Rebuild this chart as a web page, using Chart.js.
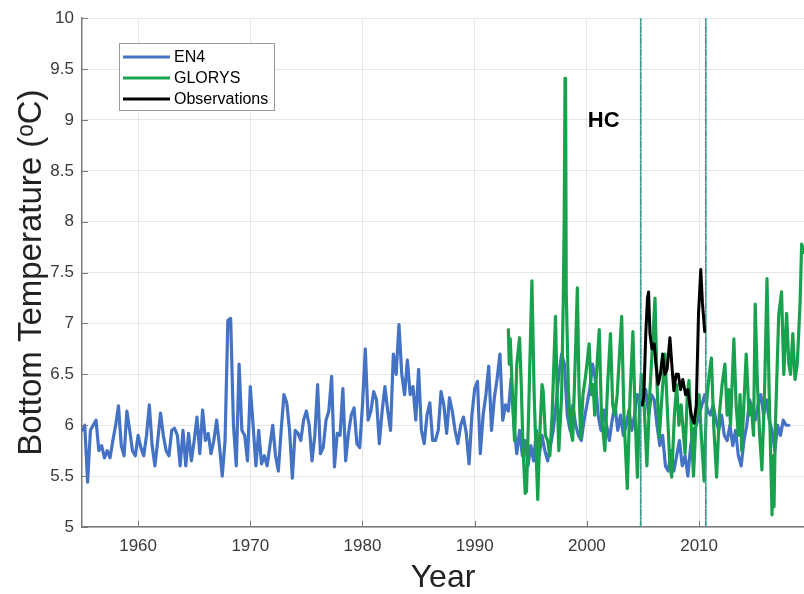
<!DOCTYPE html>
<html>
<head>
<meta charset="utf-8">
<script src="https://cdn.jsdelivr.net/npm/chart.js@4.4.1/dist/chart.umd.min.js"></script>
<style>
  html, body { margin: 0; padding: 0; background: #fff; }
</style>
</head>
<body>
<canvas id="tempChart" width="804" height="594"></canvas>
<script>
// EN4: quarterly values starting 1955.0
const en4Start = 1955.0;
const en4Step = 0.25;
const en4Temps = [
  5.95, 6.0, 5.44, 5.95,   6.0, 6.05, 5.75, 5.8,    5.68, 5.75, 5.68, 5.85,  6.0, 6.19, 5.8, 5.7,
  6.14, 5.95, 5.75, 5.7,   5.9, 5.78, 5.7, 5.9,     6.2, 5.8, 5.6, 5.85,     6.12, 5.9, 5.75, 5.7,
  5.95, 5.97, 5.9, 5.6,    5.95, 5.6, 5.92, 5.65,   5.85, 6.08, 5.72, 6.15,  5.85, 5.92, 5.72, 5.85,
  6.05, 5.8, 5.5, 5.85,    7.03, 7.05, 6.0, 5.6,    6.6, 5.95, 5.9, 5.65,    6.38, 6.0, 5.6, 5.95,
  5.62, 5.7, 5.6, 5.8,     6.0, 5.7, 5.55, 5.95,    6.3, 6.22, 5.95, 5.48,   5.95, 5.92, 5.85, 6.05,
  6.14, 6.0, 5.65, 5.9,    6.4, 5.72, 5.78, 6.05,   6.14, 6.48, 5.59, 5.92,  5.9, 6.36, 5.65, 5.92,
  6.1, 6.17, 5.82, 5.78,   6.2, 6.75, 6.05, 6.14,   6.33, 6.25, 5.82, 6.14,  6.38, 6.14, 5.95, 6.7,
  6.5, 6.99, 6.5, 6.3,     6.64, 6.3, 6.38, 6.05,   6.55, 5.95, 5.82, 6.1,   6.22, 5.85, 5.85, 5.95,
  6.33, 6.2, 5.92, 6.27,   6.14, 5.95, 5.82, 6.0,   6.08, 5.92, 5.62, 6.1,   6.36, 6.43, 5.72, 6.1,
  6.3, 6.58, 5.95, 6.27,   6.46, 6.7, 6.05, 6.2,    6.14, 6.46, 6.0, 5.72,   5.95, 5.7, 5.85, 5.6,
  5.8, 5.65, 5.95, 5.7,    5.9, 5.75, 5.65, 5.8,    5.95, 6.2, 6.5, 6.7,     6.6, 6.1, 5.95, 6.2,
  6.0, 5.9, 5.85, 6.05,    6.2, 6.35, 6.6, 6.45,    6.1, 5.95, 6.15, 6.0,    5.85, 6.05, 6.2, 5.95,
  6.1, 5.9, 6.0, 6.15,     5.95, 6.1, 6.3, 6.25,    6.2, 6.35, 6.1, 6.3,     6.25, 6.0, 5.8, 5.9,
  5.6, 5.55, 5.75, 5.55,   5.7, 5.85, 5.6, 5.7,     5.5, 5.8, 5.95, 6.0,     6.1, 6.2, 6.3, 6.15,
  6.1, 6.2, 6.05, 5.95,    6.1, 5.9, 5.85, 6.0,     5.8, 5.95, 5.7, 5.6,     5.85, 6.0, 6.25, 6.15,
  6.05, 6.2, 6.3, 6.1,     6.25, 6.05, 5.95, 5.75,  6.0, 5.9, 6.05, 6.0,     6.0
];

// GLORYS: turning points
const glorysYears = [
  1993.00, 1993.08, 1993.17, 1993.35, 1993.55, 1993.75, 1994.00, 1994.15, 1994.30, 1994.50, 1994.62, 1994.80,
  1995.10, 1995.30, 1995.45, 1995.62, 1995.80, 1996.00, 1996.10, 1996.30, 1996.50, 1996.70, 1996.90,
  1997.20, 1997.35, 1997.50, 1997.75, 1997.90, 1997.98, 1998.05, 1998.10, 1998.16, 1998.35, 1998.55, 1998.73, 1998.95,
  1999.15, 1999.30, 1999.45, 1999.65, 1999.90, 2000.20, 2000.40, 2000.55, 2000.70, 2000.85,
  2001.10, 2001.30, 2001.60, 2001.85, 2002.10, 2002.30, 2002.50, 2002.70,
  2003.10, 2003.30, 2003.60, 2003.85, 2004.10, 2004.30, 2004.50, 2004.70, 2004.85,
  2005.10, 2005.35, 2005.60, 2005.85, 2006.07, 2006.25, 2006.45, 2006.70, 2006.96,
  2007.15, 2007.40, 2007.56, 2007.80, 2008.00, 2008.20, 2008.40, 2008.75, 2008.95,
  2009.10, 2009.30, 2009.50, 2009.75, 2010.00, 2010.20, 2010.45, 2010.65, 2010.90,
  2011.10, 2011.30, 2011.56, 2011.80, 2012.05, 2012.30, 2012.50, 2012.65, 2012.80,
  2013.10, 2013.30, 2013.50, 2013.65, 2013.80, 2014.20, 2014.45, 2014.65, 2014.85,
  2015.00, 2015.20, 2015.40, 2015.60, 2015.85, 2016.05, 2016.25, 2016.40, 2016.50, 2016.60, 2016.68, 2016.80,
  2017.10, 2017.35, 2017.55, 2017.80, 2018.00, 2018.15, 2018.35, 2018.55, 2018.75, 2019.00, 2019.14, 2019.35
];
const glorysTemps = [
  6.94, 6.6, 6.85, 6.35, 5.85, 6.6, 6.86, 6.4, 5.8, 5.33, 5.35, 6.1,
  7.42, 6.3, 5.8, 5.27, 5.9, 6.4, 6.34, 5.9, 5.85, 5.7, 6.1,
  7.07, 6.3, 5.75, 6.3, 7.28, 8.05, 9.41, 9.38, 7.3, 6.34, 5.95, 5.85, 6.6,
  7.35, 6.34, 5.87, 6.3, 6.5, 6.8, 6.3, 6.4, 6.1, 6.5,
  6.94, 6.1, 5.75, 6.4, 6.9, 6.2, 6.1, 6.3,
  7.07, 6.1, 5.38, 6.3, 6.92, 6.1, 5.49, 6.2, 6.5,
  6.2, 5.6, 6.3, 6.8, 7.25, 6.4, 5.88, 6.3, 6.7,
  6.2, 5.6, 5.49, 6.1, 6.4, 6.0, 6.2, 5.72, 6.3,
  6.44, 6.0, 5.5, 6.1, 6.3, 5.9, 5.45, 6.2, 6.5,
  6.66, 6.0, 5.49, 6.1, 6.4, 6.6, 6.1, 6.35, 6.0,
  6.85, 6.2, 5.9, 6.3, 5.75, 6.7, 6.1, 6.2, 5.9,
  7.19, 6.4, 5.9, 5.56, 6.4, 7.44, 6.3, 5.6, 5.12, 5.7, 5.2, 6.0,
  7.09, 7.31, 6.5, 7.1, 6.6, 6.5, 6.9, 6.45, 6.6, 7.2, 7.78, 7.7
];

// Observations (HC mooring)
const obsYears = [
  2004.95, 2005.08, 2005.25, 2005.40, 2005.50, 2005.62, 2005.80, 2006.00, 2006.15, 2006.35,
  2006.55, 2006.75, 2006.95, 2007.15, 2007.40, 2007.60, 2007.75, 2007.95, 2008.15, 2008.35,
  2008.55, 2008.80, 2009.00, 2009.30, 2009.55, 2009.75, 2009.95, 2010.15, 2010.30, 2010.50
];
const obsTemps = [
  6.2, 6.3, 6.9, 7.25, 7.31, 6.9, 6.75, 6.8, 6.6, 6.4,
  6.5, 6.7, 6.5, 6.55, 6.86, 6.55, 6.34, 6.5, 6.5, 6.35,
  6.45, 6.3, 6.35, 6.1, 6.02, 6.2, 7.1, 7.53, 7.2, 6.92
];

// deployment window markers
const markerYears = [2004.8, 2010.6];
const yearTicks = [1960, 1970, 1980, 1990, 2000, 2010];
const tempRange = [5, 10];
const xRange = [1955, 2019.35];
const siteLabel = { text: 'HC', x: 2001.5, y: 8.99 };

const FONT = "'Liberation Sans', Arial, sans-serif";
const AXIS_GRAY = '#7a7a7a';

const toPoints = (xs, ys) => ys.map((v, i) => ({ x: xs[i], y: v }));
const en4Points = en4Temps.map((v, i) => ({ x: en4Start + i * en4Step, y: v }));

const markerSets = markerYears.map(yr => ({
  label: 'marker',
  data: [{ x: yr, y: tempRange[0] }, { x: yr, y: tempRange[1] }],
  borderColor: '#3c9c8c',
  borderWidth: 1.8,
  borderDash: [6, 2, 1.5, 2],
  pointRadius: 0,
  order: 1
}));

// legend, site label and inward tick marks
const decorPlugin = {
  id: 'decor',
  afterDraw(chart) {
    const { ctx, chartArea, scales } = chart;
    ctx.save();

    // inward ticks like the original figure
    ctx.strokeStyle = AXIS_GRAY;
    ctx.lineWidth = 1;
    scales.x.ticks.forEach(t => {
      const px = Math.round(scales.x.getPixelForValue(t.value)) + 0.5;
      ctx.beginPath();
      ctx.moveTo(px, chartArea.bottom);
      ctx.lineTo(px, chartArea.bottom - 6);
      ctx.stroke();
    });
    scales.y.ticks.forEach(t => {
      const py = Math.round(scales.y.getPixelForValue(t.value)) + 0.5;
      ctx.beginPath();
      ctx.moveTo(chartArea.left, py);
      ctx.lineTo(chartArea.left + 6, py);
      ctx.stroke();
    });

    // site label
    ctx.fillStyle = '#000';
    ctx.font = 'bold 22px ' + FONT;
    ctx.textAlign = 'center';
    ctx.textBaseline = 'middle';
    ctx.fillText(siteLabel.text, scales.x.getPixelForValue(siteLabel.x), scales.y.getPixelForValue(siteLabel.y));

    // legend box
    const bx = 119, by = 43, bw = 155, bh = 67;
    ctx.fillStyle = '#fff';
    ctx.fillRect(bx, by, bw, bh);
    ctx.strokeStyle = '#9a9a9a';
    ctx.lineWidth = 1;
    ctx.strokeRect(bx + 0.5, by + 0.5, bw, bh);
    ctx.font = '16px ' + FONT;
    ctx.textAlign = 'left';
    for (let i = 0; i < 3; i++) {
      const ds = chart.data.datasets[i];
      const ly = by + 14 + i * 21;
      ctx.strokeStyle = ds.borderColor;
      ctx.lineWidth = 3;
      ctx.beginPath();
      ctx.moveTo(bx + 4, ly);
      ctx.lineTo(bx + 51, ly);
      ctx.stroke();
      ctx.fillStyle = '#000';
      ctx.fillText(ds.label, bx + 55, ly + 1);
    }
    ctx.restore();
  }
};

new Chart(document.getElementById('tempChart'), {
  type: 'line',
  data: {
    datasets: [
      { label: 'EN4', data: en4Points, borderColor: '#4472c4', borderWidth: 3.2, pointRadius: 0, order: 4 },
      { label: 'GLORYS', data: toPoints(glorysYears, glorysTemps), borderColor: '#19a24e', borderWidth: 3.2, pointRadius: 0, order: 3 },
      { label: 'Observations', data: toPoints(obsYears, obsTemps), borderColor: '#000000', borderWidth: 3, pointRadius: 0, order: 0 },
      ...markerSets
    ]
  },
  options: {
    responsive: false,
    animation: false,
    devicePixelRatio: 1,
    layout: { padding: { top: 15, right: 0, left: 0, bottom: 0 } },
    elements: { line: { tension: 0, borderJoinStyle: 'round', borderCapStyle: 'round' } },
    plugins: { legend: { display: false }, tooltip: { enabled: false } },
    scales: {
      x: {
        type: 'linear',
        min: xRange[0],
        max: xRange[1],
        afterBuildTicks: s => { s.ticks = yearTicks.map(v => ({ value: v })); },
        afterFit: s => { s.height = 67; },
        ticks: { color: '#3a3a3a', font: { family: FONT, size: 17 }, padding: 9, callback: v => String(v) },
        grid: { color: '#e6e6e6', drawTicks: false },
        border: { display: true, color: AXIS_GRAY, width: 1.5 },
        title: { display: true, text: 'Year', color: '#222', font: { family: FONT, size: 32, lineHeight: 1 }, padding: 0 }
      },
      y: {
        min: tempRange[0],
        max: tempRange[1],
        afterFit: s => { s.width = 82; },
        ticks: { stepSize: 0.5, color: '#3a3a3a', font: { family: FONT, size: 17 }, padding: 8,
                 callback: v => String(Number(v.toFixed(1))) },
        grid: { color: '#e6e6e6', drawTicks: false },
        border: { display: true, color: AXIS_GRAY, width: 1.5 },
        title: { display: true, text: 'Bottom Temperature (ᵒC)', color: '#222', font: { family: FONT, size: 33, lineHeight: 1.2 }, padding: { top: 12 } }
      }
    }
  },
  plugins: [decorPlugin]
});
</script>
</body>
</html>
